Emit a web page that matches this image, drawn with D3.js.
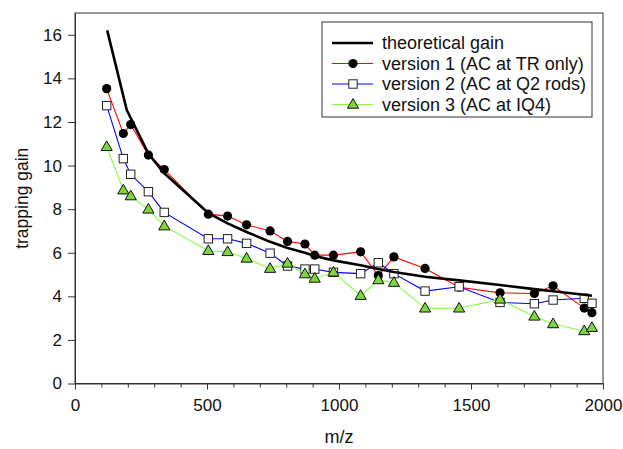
<!DOCTYPE html>
<html>
<head>
<meta charset="utf-8">
<script src="https://cdn.jsdelivr.net/npm/d3@7"></script>
<style>
  body { margin: 0; background: #fff; }
  svg { display: block; font-family: "Liberation Sans", Arial, sans-serif; }
</style>
</head>
<body>
<div id="chart"></div>
<script>
// m/z values shared by the three measured versions
let mz = [120, 183, 211, 278, 338, 505, 578, 650, 739, 805, 871, 908, 979, 1082, 1149, 1208, 1326, 1455, 1610, 1740, 1811, 1929, 1958]

let version1 = [13.53, 11.47, 11.88, 10.48, 9.82, 7.77, 7.68, 7.28, 7.0, 6.52, 6.4, 5.89, 5.89, 6.04, 4.95, 5.81, 5.28, 4.42, 4.16, 4.13, 4.48, 3.46, 3.25]
let version2 = [12.75, 10.32, 9.6, 8.8, 7.85, 6.64, 6.64, 6.43, 5.98, 5.39, 5.25, 5.25, 5.1, 5.04, 5.54, 5.04, 4.24, 4.44, 3.72, 3.66, 3.83, 3.91, 3.68]
let version3 = [10.86, 8.87, 8.6, 7.99, 7.22, 6.09, 6.04, 5.74, 5.27, 5.51, 5.02, 4.82, 5.1, 4.03, 4.75, 4.63, 3.45, 3.45, 3.86, 3.08, 2.73, 2.41, 2.56]

// theoretical curve
let theoryMz = [122, 196, 278, 338, 505, 578, 650, 739, 805, 871, 908, 979, 1082, 1149, 1208, 1326, 1455, 1610, 1740, 1811, 1929, 1958]
let theoryGain = [16.2, 12.55, 10.55, 9.65, 7.82, 7.35, 6.95, 6.5, 6.22, 6.0, 5.85, 5.65, 5.43, 5.25, 5.12, 4.9, 4.73, 4.52, 4.33, 4.23, 4.07, 4.03]

let xMajor = [0, 500, 1000, 1500, 2000]
let xMinor = d3.range(0, 2001, 100)
let yMajor = [0, 2, 4, 6, 8, 10, 12, 14, 16]

let legendLabels = ["theoretical gain", "version 1 (AC at TR only)", "version 2 (AC at Q2 rods)", "version 3 (AC at IQ4)"]

let width = 623, height = 449
let margin = {top: 13, right: 20, bottom: 65.5, left: 75}

let svg = d3.select("#chart").append("svg")
  .attr("width", width)
  .attr("height", height)

let x = d3.scaleLinear().domain([0, 2000]).range([margin.left, width - margin.right])
let y = d3.scaleLinear().domain([0, 17]).range([height - margin.bottom, margin.top])

let axisColor = "#333"

// minor x ticks
svg.append("g")
  .attr("transform", `translate(0,${y(0)})`)
  .call(d3.axisBottom(x).tickValues(xMinor).tickSize(4).tickFormat(""))
  .call(g => g.select(".domain").remove())
  .call(g => g.selectAll("line").attr("stroke", axisColor))

// major x ticks
svg.append("g")
  .attr("transform", `translate(0,${y(0)})`)
  .call(d3.axisBottom(x).tickValues(xMajor).tickSize(6).tickSizeOuter(0).tickPadding(9).tickFormat(d3.format("d")))
  .call(g => g.select(".domain").attr("stroke", axisColor))
  .call(g => g.selectAll("line").attr("stroke", axisColor))
  .call(g => g.selectAll("text").attr("font-size", 17).attr("fill", "#111").attr("font-family", null))

svg.append("g")
  .attr("transform", `translate(${x(0)},0)`)
  .call(d3.axisLeft(y).tickValues(yMajor).tickSize(7).tickSizeOuter(0).tickPadding(6))
  .call(g => g.select(".domain").attr("stroke", axisColor))
  .call(g => g.selectAll("line").attr("stroke", axisColor))
  .call(g => g.selectAll("text").attr("font-size", 17).attr("fill", "#111").attr("font-family", null))

// frame top and right
svg.append("rect")
  .attr("x", x(0)).attr("y", y(17))
  .attr("width", x(2000) - x(0)).attr("height", y(0) - y(17))
  .attr("fill", "none").attr("stroke", axisColor)

svg.append("text")
  .attr("x", (x(0) + x(2000)) / 2)
  .attr("y", 443)
  .attr("text-anchor", "middle")
  .attr("font-size", 18)
  .attr("fill", "#111")
  .text("m/z")

svg.append("text")
  .attr("transform", `translate(28,${(y(0) + y(17)) / 2}) rotate(-90)`)
  .attr("text-anchor", "middle")
  .attr("font-size", 17.5)
  .attr("fill", "#111")
  .text("trapping gain")

let line = d3.line()
  .x(d => x(d[0]))
  .y(d => y(d[1]))

let triangle = d3.symbol().type(d3.symbolTriangle).size(54)

let series = [
  {vals: version1, color: "#ff0000", marker: "circle"},
  {vals: version2, color: "#0000ff", marker: "square"},
  {vals: version3, color: "#80ff40", marker: "triangle"}
]

function drawMarker(g, kind, cx, cy) {
  if (kind === "circle") {
    g.append("circle").attr("cx", cx).attr("cy", cy).attr("r", 4.6).attr("fill", "#000")
  } else if (kind === "square") {
    g.append("rect").attr("x", cx - 4.2).attr("y", cy - 4.2).attr("width", 8.4).attr("height", 8.4)
      .attr("fill", "#fff").attr("stroke", "#222").attr("stroke-width", 1)
  } else {
    g.append("path").attr("d", triangle).attr("transform", `translate(${cx},${cy + 0.5})`)
      .attr("fill", "#7ed63a").attr("stroke", "#111").attr("stroke-width", 1)
  }
}

series.forEach(s => {
  let pts = mz.map((m, i) => [m, s.vals[i]])
  let g = svg.append("g")
  g.append("path")
    .datum(pts)
    .attr("fill", "none")
    .attr("stroke", s.color)
    .attr("stroke-width", 1.1)
    .attr("d", line)
  pts.forEach(p => drawMarker(g, s.marker, x(p[0]), y(p[1])))
})

svg.append("path")
  .datum(theoryMz.map((m, i) => [m, theoryGain[i]]))
  .attr("fill", "none")
  .attr("stroke", "#000")
  .attr("stroke-width", 2.6)
  .attr("stroke-linejoin", "round")
  .attr("d", line)

// legend
let legend = svg.append("g")
legend.append("rect")
  .attr("x", 322).attr("y", 22)
  .attr("width", 270).attr("height", 95)
  .attr("fill", "#fff").attr("stroke", axisColor)

let legendItems = [
  {color: "#000", marker: null, width: 2.6},
  {color: "#ff0000", marker: "circle", width: 1.1},
  {color: "#0000ff", marker: "square", width: 1.1},
  {color: "#80ff40", marker: "triangle", width: 1.1}
]

legendItems.forEach((it, i) => {
  let ly = 43 + i * 20.5
  legend.append("line")
    .attr("x1", 332).attr("x2", 373).attr("y1", ly).attr("y2", ly)
    .attr("stroke", it.color).attr("stroke-width", it.width)
  if (it.marker) drawMarker(legend, it.marker, 353, ly)
  legend.append("text")
    .attr("x", 382).attr("y", ly)
    .attr("dy", "0.35em")
    .attr("font-size", 18)
    .attr("fill", "#111")
    .text(legendLabels[i])
})
</script>
</body>
</html>
